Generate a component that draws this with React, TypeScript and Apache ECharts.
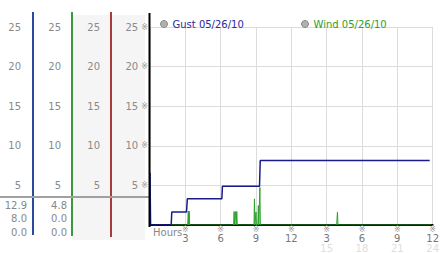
import React, { useEffect, useRef } from 'react';
import * as echarts from 'echarts';

// ---- data ----
const hourTickLabels = ['', '3', '6', '9', '12', '3', '6', '9', '12'];
const hour24Labels = ['', '', '', '', '', '15', '18', '21', '24'];
const gustName = 'Gust 05/26/10';
const windName = 'Wind 05/26/10';

const gustHours = [0, 0.05, 1.8, 1.85, 3.1, 3.17, 6.1, 6.15, 9.3, 9.36, 23.75];
const gustValues = [6.6, 0, 0, 1.65, 1.65, 3.3, 3.3, 4.9, 4.9, 8.15, 8.15];

const windHours = [
  1.8,
  3.2, 3.25, 3.29, 3.33, 3.37,
  7.1, 7.14, 7.18, 7.25, 7.32, 7.37, 7.41,
  8.83, 8.87, 8.91, 8.96, 9.0, 9.04, 9.16, 9.2, 9.24, 9.29, 9.33, 9.37,
  15.85, 15.88, 15.92, 15.96,
  23.9,
];
const windValues = [
  0,
  0, 1.75, 0, 1.75, 0,
  0, 1.7, 0, 1.7, 0, 1.7, 0,
  0, 3.3, 0, 0, 1.65, 0, 0, 2.45, 0, 0, 4.75, 0,
  0, 0.75, 1.65, 0,
  0,
];

const gustStats = ['12.9', '8.0', '0.0'];
const windStats = ['4.8', '0.0', '0.0'];

const FONT = 'DejaVu Sans';

export default function App() {
  const ref = useRef<HTMLDivElement>(null);

  useEffect(() => {
    if (!ref.current) return;
    const chart = echarts.init(ref.current, undefined, { renderer: 'svg' });

    const gustData = gustHours.map((h, i) => [h, gustValues[i]]);
    const windData = windHours.map((h, i) => [h, windValues[i]]);

    const sideAxis = (offset: number, margin: number) => ({
      type: 'value',
      min: 0,
      max: 25,
      interval: 5,
      position: 'left',
      offset,
      axisLine: { show: false },
      axisTick: { show: false },
      splitLine: { show: false },
      axisLabel: {
        margin,
        color: '#8a8a8a',
        fontSize: 10,
        fontFamily: FONT,
        formatter: (v: number) => (v === 0 ? '' : String(v)),
      },
    });

    const statTexts: any[] = [];
    const rowsY = [205, 218.5, 232];
    gustStats.forEach((s, i) =>
      statTexts.push({
        type: 'text', x: 27, y: rowsY[i], z: 20,
        style: { text: s, fill: '#888', font: `10px "${FONT}"`, textAlign: 'right', textVerticalAlign: 'middle' },
      })
    );
    windStats.forEach((s, i) =>
      statTexts.push({
        type: 'text', x: 67, y: rowsY[i], z: 20,
        style: { text: s, fill: '#888', font: `10px "${FONT}"`, textAlign: 'right', textVerticalAlign: 'middle' },
      })
    );

    chart.setOption({
      animation: false,
      textStyle: { fontFamily: FONT },
      grid: { left: 150, right: 4, top: 27, bottom: 27 },
      legend: [
        {
          left: 155, top: 14, icon: 'circle', itemWidth: 7, itemHeight: 7,
          lineStyle: { opacity: 0 },
          data: [{ name: gustName, itemStyle: { color: '#b0b0b0', borderColor: '#888', borderWidth: 1 }, textStyle: { color: '#2a2a9e' } }],
          textStyle: { fontSize: 10, fontFamily: FONT },
        },
        {
          left: 296, top: 14, icon: 'circle', itemWidth: 7, itemHeight: 7,
          lineStyle: { opacity: 0 },
          data: [{ name: windName, itemStyle: { color: '#b0b0b0', borderColor: '#888', borderWidth: 1 }, textStyle: { color: '#2e9e2e' } }],
          textStyle: { fontSize: 10, fontFamily: FONT },
        },
      ],
      xAxis: {
        type: 'value',
        min: 0,
        max: 24,
        interval: 3,
        axisLine: { show: true, lineStyle: { color: '#000', width: 2 } },
        axisTick: { show: false },
        splitLine: { show: true, lineStyle: { color: '#dcdcdc', width: 1 } },
        axisLabel: {
          margin: 1,
          fontFamily: FONT,
          formatter: (v: number) => {
            const i = Math.round(v / 3);
            if (!hourTickLabels[i]) return '';
            let s = `{m|※}\n{a|${hourTickLabels[i]}}`;
            if (hour24Labels[i]) s += `\n{b|${hour24Labels[i]}}`;
            return s;
          },
          rich: {
            m: { fontSize: 8, color: '#999', lineHeight: 7, fontFamily: FONT },
            a: { fontSize: 10, color: '#777', lineHeight: 10, fontFamily: FONT },
            b: { fontSize: 10, color: '#dedede', lineHeight: 10, fontFamily: FONT },
          },
        },
      },
      yAxis: [
        {
          type: 'value',
          min: 0,
          max: 25,
          interval: 5,
          position: 'left',
          axisLine: { show: false },
          axisTick: { show: false },
          splitLine: { show: true, lineStyle: { color: '#dcdcdc', width: 1 } },
          axisLabel: {
            margin: 2,
            color: '#8a8a8a',
            fontSize: 10,
            fontFamily: FONT,
            formatter: (v: number) => (v === 0 ? '' : `${v} {m|※}`),
            rich: { m: { fontSize: 8, color: '#999', fontFamily: FONT } },
          },
        },
        sideAxis(38, 12),
        sideAxis(77, 12),
        sideAxis(116, 13),
      ],
      graphic: [
        { type: 'rect', z: -10, shape: { x: 73, y: 15, width: 38, height: 225 }, style: { fill: '#f5f5f5' } },
        { type: 'rect', z: -10, shape: { x: 112, y: 15, width: 33, height: 225 }, style: { fill: '#f5f5f5' } },
        { type: 'line', z: 10, shape: { x1: 33, y1: 12, x2: 33, y2: 235 }, style: { stroke: '#2a4aa0', lineWidth: 2 } },
        { type: 'line', z: 10, shape: { x1: 72, y1: 12, x2: 72, y2: 236 }, style: { stroke: '#3a9a3a', lineWidth: 2 } },
        { type: 'line', z: 10, shape: { x1: 111, y1: 12, x2: 111, y2: 237 }, style: { stroke: '#a83a3a', lineWidth: 2 } },
        { type: 'line', z: 11, shape: { x1: 0, y1: 197, x2: 149, y2: 197 }, style: { stroke: '#a0a0a0', lineWidth: 2 } },
        { type: 'line', z: 11, shape: { x1: 149.5, y1: 13, x2: 149.5, y2: 227 }, style: { stroke: '#000', lineWidth: 2 } },
        {
          type: 'text', x: 153, y: 232, z: 20,
          style: { text: 'Hours', fill: '#888', font: `10px "${FONT}"`, textAlign: 'left', textVerticalAlign: 'middle' },
        },
        ...statTexts,
      ],
      series: [
        {
          name: windName,
          type: 'line',
          data: windData,
          showSymbol: false,
          symbol: 'none',
          lineStyle: { color: '#2ca02c', width: 1 },
          itemStyle: { color: '#2ca02c' },
          z: 3,
        },
        {
          name: gustName,
          type: 'line',
          data: gustData,
          showSymbol: false,
          symbol: 'none',
          lineStyle: { color: '#1a1a8a', width: 1.5 },
          itemStyle: { color: '#1a1a8a' },
          z: 4,
        },
      ],
    });

    return () => chart.dispose();
  }, []);

  return (
    <div
      ref={ref}
      style={{ position: 'fixed', left: 0, top: 0, width: 442, height: 253, background: '#fff' }}
    />
  );
}
